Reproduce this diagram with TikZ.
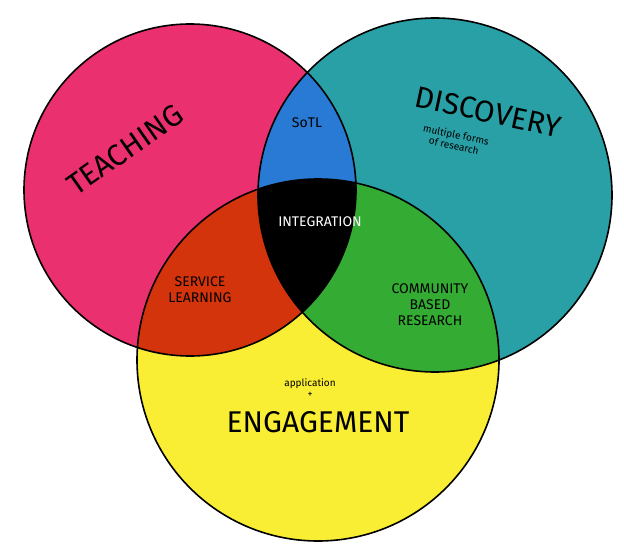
\documentclass[tikz,border=0pt]{standalone}
\usepackage{fontspec}
\setmainfont{Fira Sans}
\begin{document}
\begin{tikzpicture}
  [
    x=1pt,y=-1pt,
    ring/.style={draw=black,line width=1.6pt},
    big/.style={font=\fontsize{30}{32}\selectfont},
    mid/.style={font=\fontsize{14}{16}\selectfont},
    small/.style={font=\fontsize{10}{11}\selectfont,align=center}
  ]
  \definecolor{teach}{RGB}{234,48,110}
  \definecolor{disc}{RGB}{40,160,166}
  \definecolor{enga}{RGB}{250,238,52}
  \definecolor{sotl}{RGB}{40,122,212}
  \definecolor{serv}{RGB}{212,52,12}
  \definecolor{comm}{RGB}{52,172,52}
  \useasboundingbox (0,0) rectangle (624,551);
  \fill[white] (0,0) rectangle (624,551);
  % circles
  \def\teachc{(190,190) circle (166)}
  \def\discc{(435,195) circle (177)}
  \def\engac{(318,360) circle (181)}
  \fill[teach] \teachc;
  \fill[disc] \discc;
  \fill[enga] \engac;
  % overlaps
  \begin{scope}
    \clip \teachc;
    \fill[sotl] \discc;
    \fill[serv] \engac;
  \end{scope}
  \begin{scope}
    \clip \discc;
    \fill[comm] \engac;
    \clip \teachc;
    \fill[black] \engac;
  \end{scope}
  \draw[ring] \teachc;
  \draw[ring] \discc;
  \draw[ring] \engac;
  % labels
  \node[big,rotate=35] (teaching) at (125,150) {TEACHING};
  \node[big,rotate=-12] (discovery) at (488,112) {DISCOVERY};
  \node[small,rotate=-12] (research) at (455,140) {multiple forms\\of research};
  \node[big] (engagement) at (318,422) {ENGAGEMENT};
  \node[small] (application) at (310,388) {application\\+};
  \node[mid] (sotl) at (307,123) {SoTL};
  \node[mid,white] (integration) at (320,222) {INTEGRATION};
  \node[mid,align=center] (service) at (200,290) {SERVICE\\LEARNING};
  \node[mid,align=center] (community) at (430,305) {COMMUNITY\\BASED\\RESEARCH};
\end{tikzpicture}
\end{document}
